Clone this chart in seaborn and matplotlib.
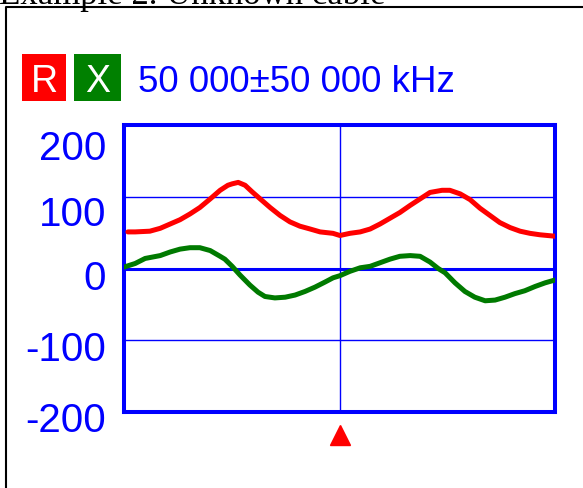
import numpy as np
import pandas as pd
import matplotlib
matplotlib.use("Agg")
import matplotlib.pyplot as plt
import seaborn as sns
from matplotlib.patches import Rectangle
from matplotlib.lines import Line2D
from matplotlib.transforms import ScaledTranslation, blended_transform_factory

# ---- data ----
r_freq_khz = [900, 2600, 6000, 8400, 10700, 13000, 15300, 17600, 20000, 22300,
              24100, 25100, 26500, 28100, 29700, 31600, 33900, 36200, 38500, 40800,
              43200, 45500, 48500, 50100, 52400, 54800, 57100, 59400, 61700, 64000,
              66400, 68700, 71000, 73800, 75600, 78000, 80300, 82600, 84900, 87200,
              89600, 91900, 94200, 96500, 100000]
r_values = [51, 51, 52, 56, 62, 68, 76, 85, 97, 109,
            116, 118, 120, 116, 107, 97, 85, 74, 65, 59,
            55, 51, 49, 46, 49, 51, 55, 62, 70, 78,
            88, 97, 106, 109, 109, 104, 96, 84, 74, 64,
            57, 52, 49, 47, 45]

x_freq_khz = [0, 2600, 4900, 8400, 10700, 13000, 15300, 17600, 20000, 22300,
              23400, 25100, 26900, 29200, 31100, 32700, 35000, 37400, 39700, 42000,
              44300, 46600, 48500, 50100, 52400, 54800, 57100, 59400, 61700, 64000,
              66400, 68700, 71000, 72900, 74500, 76800, 79100, 81400, 83800, 86100,
              88400, 90700, 93000, 95400, 97700, 100000]
x_values = [2, 7, 14, 18, 23, 27, 29, 29, 25, 17,
            13, 3, -9, -23, -33, -39, -41, -40, -37, -32,
            -26, -19, -13, -10, -4, 1, 3, 8, 13, 17,
            18, 17, 9, 0, -6, -20, -32, -40, -45, -44,
            -40, -35, -31, -25, -20, -16]

y_ticks = [-200, -100, 0, 100, 200]
y_tick_labels = ["-200", "-100", "0", "100", "200"]
center_khz = 50000
span_khz = 50000
title_text = "Example 2. Unknown cable"
header_text = "50 000\u00b150 000 kHz"

df_r = pd.DataFrame({"freq": r_freq_khz, "value": r_values})
df_x = pd.DataFrame({"freq": x_freq_khz, "value": x_values})

sns.set_style("white")
plt.rcParams["font.family"] = ["Liberation Sans", "DejaVu Sans"]

W, H = 583, 489
fig = plt.figure(figsize=(W / 100, H / 100), dpi=100)
fig.patch.set_facecolor("white")

def fx(px):
    return px / W

def fy(py):
    return 1 - py / H

ax = fig.add_axes([fx(124), fy(413), fx(555) - fx(124), fy(126) - fy(413)])

BLUE = "#0000ff"
RED = "#ff0000"
GREEN = "#007a00"

# grid
for v in (-100, 100):
    ax.axhline(v, color=BLUE, lw=1.0, zorder=1)
ax.axhline(0, color=BLUE, lw=2.2, zorder=1)
ax.axvline(center_khz, color=BLUE, lw=1.0, zorder=1)

sns.lineplot(data=df_r, x="freq", y="value", ax=ax, color=RED, lw=3.6, zorder=3)
sns.lineplot(data=df_x, x="freq", y="value", ax=ax, color=GREEN, lw=3.6, zorder=3)

ax.set_xlim(center_khz - span_khz, center_khz + span_khz)
ax.set_ylim(-200, 200)
ax.set_xticks([])
ax.set_xlabel("")
ax.set_ylabel("")
ax.set_yticks(y_ticks)
ax.set_yticklabels(y_tick_labels)
ax.tick_params(axis="y", length=0, pad=13, labelsize=29, labelcolor=BLUE)
for s in ax.spines.values():
    s.set_color(BLUE)
    s.set_linewidth(2.9)

# per-label vertical nudges (pixels, downward) to match the device rendering
nudges = [4.5, 5, 6, 13, 19.5]
for lab, dy in zip(ax.get_yticklabels(), nudges):
    lab.set_transform(lab.get_transform() + ScaledTranslation(0, -dy / 100, fig.dpi_scale_trans))

# marker triangle below the axis at the center frequency
trans = blended_transform_factory(ax.transData, ax.transAxes)
ax.plot([center_khz], [-0.08], marker="^", color=RED, markersize=15,
        transform=trans, clip_on=False, linestyle="none")

# header: R / X boxes and frequency text
fig.add_artist(Rectangle((fx(22), fy(102)), fx(66) - fx(22), fy(55) - fy(102),
                         transform=fig.transFigure, facecolor=RED, edgecolor="none"))
fig.add_artist(Rectangle((fx(74), fy(102)), fx(121) - fx(74), fy(55) - fy(102),
                         transform=fig.transFigure, facecolor="#008000", edgecolor="none"))
fig.text(fx(44), fy(92), "R", color="white", fontsize=27, ha="center", va="baseline")
fig.text(fx(97.5), fy(92), "X", color="white", fontsize=27, ha="center", va="baseline")
fig.text(fx(138), fy(92), header_text, color=BLUE, fontsize=26.5, ha="left", va="baseline")

# page frame and clipped caption above
fig.add_artist(Line2D([fx(6), fx(6), fx(590)], [fy(495), fy(8), fy(8)],
                      transform=fig.transFigure, color="black", lw=1.5))
fig.text(fx(-1), fy(4), title_text, color="black", fontsize=25,
         family=["Liberation Serif", "DejaVu Serif"], ha="left", va="baseline")

fig.savefig("out.png", dpi=100)
